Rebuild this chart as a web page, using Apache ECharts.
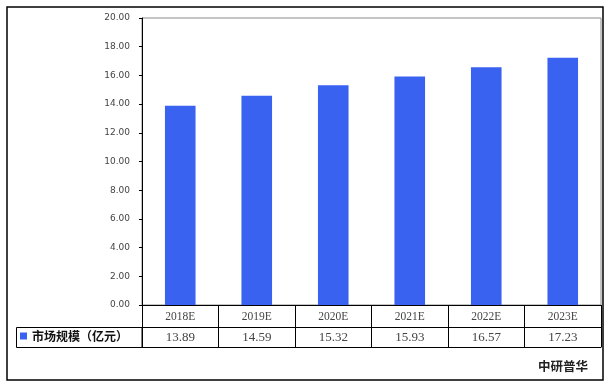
<!DOCTYPE html>
<html>
<head>
<meta charset="utf-8">
<script src="https://cdn.jsdelivr.net/npm/echarts@6/dist/echarts.min.js"></script>
<style>
html,body{margin:0;padding:0;background:#fff;}
#main{width:612px;height:388px;}
</style>
</head>
<body>
<div id="main"></div>
<script>
var categories = ['2018E', '2019E', '2020E', '2021E', '2022E', '2023E'];
var values = [13.89, 14.59, 15.32, 15.93, 16.57, 17.23];
var seriesName = '市场规模（亿元）';
var sourceText = '中研普华';
var yMin = 0, yMax = 20, yStep = 2;

var chart = echarts.init(document.getElementById('main'));
var serif = '"Liberation Serif", "DejaVu Serif", serif';
chart.setOption({
  animation: false,
  backgroundColor: '#fff',
  grid: {left: 142, top: 18, right: 11, bottom: 83, show: true, borderColor: '#8a8a8a', borderWidth: 1},
  legend: {
    data: [seriesName], left: 20, top: 330, padding: 0,
    icon: 'rect', itemWidth: 7, itemHeight: 7,
    textStyle: {fontSize: 12, fontWeight: 'bold', color: '#111', fontFamily: '"Noto Sans CJK SC", sans-serif'}
  },
  xAxis: [
    {
      type: 'category', data: categories, position: 'bottom',
      axisLine: {lineStyle: {color: '#000', width: 1}},
      axisTick: {show: true, interval: 0, length: 22, lineStyle: {color: '#000'}},
      axisLabel: {margin: 6, fontSize: 11.5, color: '#444', fontFamily: serif, interval: 0}
    },
    {
      type: 'category', data: values.map(function (v) { return v.toFixed(2); }), position: 'bottom', offset: 22,
      axisLine: {lineStyle: {color: '#000', width: 1}},
      axisTick: {show: true, interval: 0, length: 20, lineStyle: {color: '#000'}},
      axisLabel: {margin: 4, fontSize: 13, color: '#444', fontFamily: serif, interval: 0}
    },
    {
      type: 'category', data: categories, position: 'bottom', offset: 42,
      axisLine: {lineStyle: {color: '#000', width: 1}},
      axisTick: {show: false}, axisLabel: {show: false}
    }
  ],
  yAxis: {
    type: 'value', min: yMin, max: yMax, interval: yStep,
    axisLine: {show: true, lineStyle: {color: '#000'}},
    axisTick: {show: true, length: 3, lineStyle: {color: '#000'}},
    splitLine: {show: false},
    axisLabel: {margin: 12, fontSize: 9, color: '#444', fontFamily: '"DejaVu Sans", sans-serif',
      formatter: function (v) { return v.toFixed(2); }}
  },
  series: [{
    name: seriesName, type: 'bar', data: values, xAxisIndex: 0,
    barWidth: '40%', itemStyle: {color: '#3a62f0'}
  }],
  graphic: [
    {type: 'rect', shape: {x: 7, y: 7, width: 596, height: 373}, style: {fill: null, stroke: '#000', lineWidth: 1.5}, silent: true, z: 0},
    {type: 'rect', shape: {x: 16.5, y: 327.5, width: 125.5, height: 20}, style: {fill: null, stroke: '#000', lineWidth: 1}, silent: true},
    {type: 'text', right: 24, top: 360, style: {text: sourceText, fontSize: 12.5, fontWeight: 'bold', fill: '#222', fontFamily: '"Noto Sans CJK SC", sans-serif'}}
  ]
});
</script>
</body>
</html>
